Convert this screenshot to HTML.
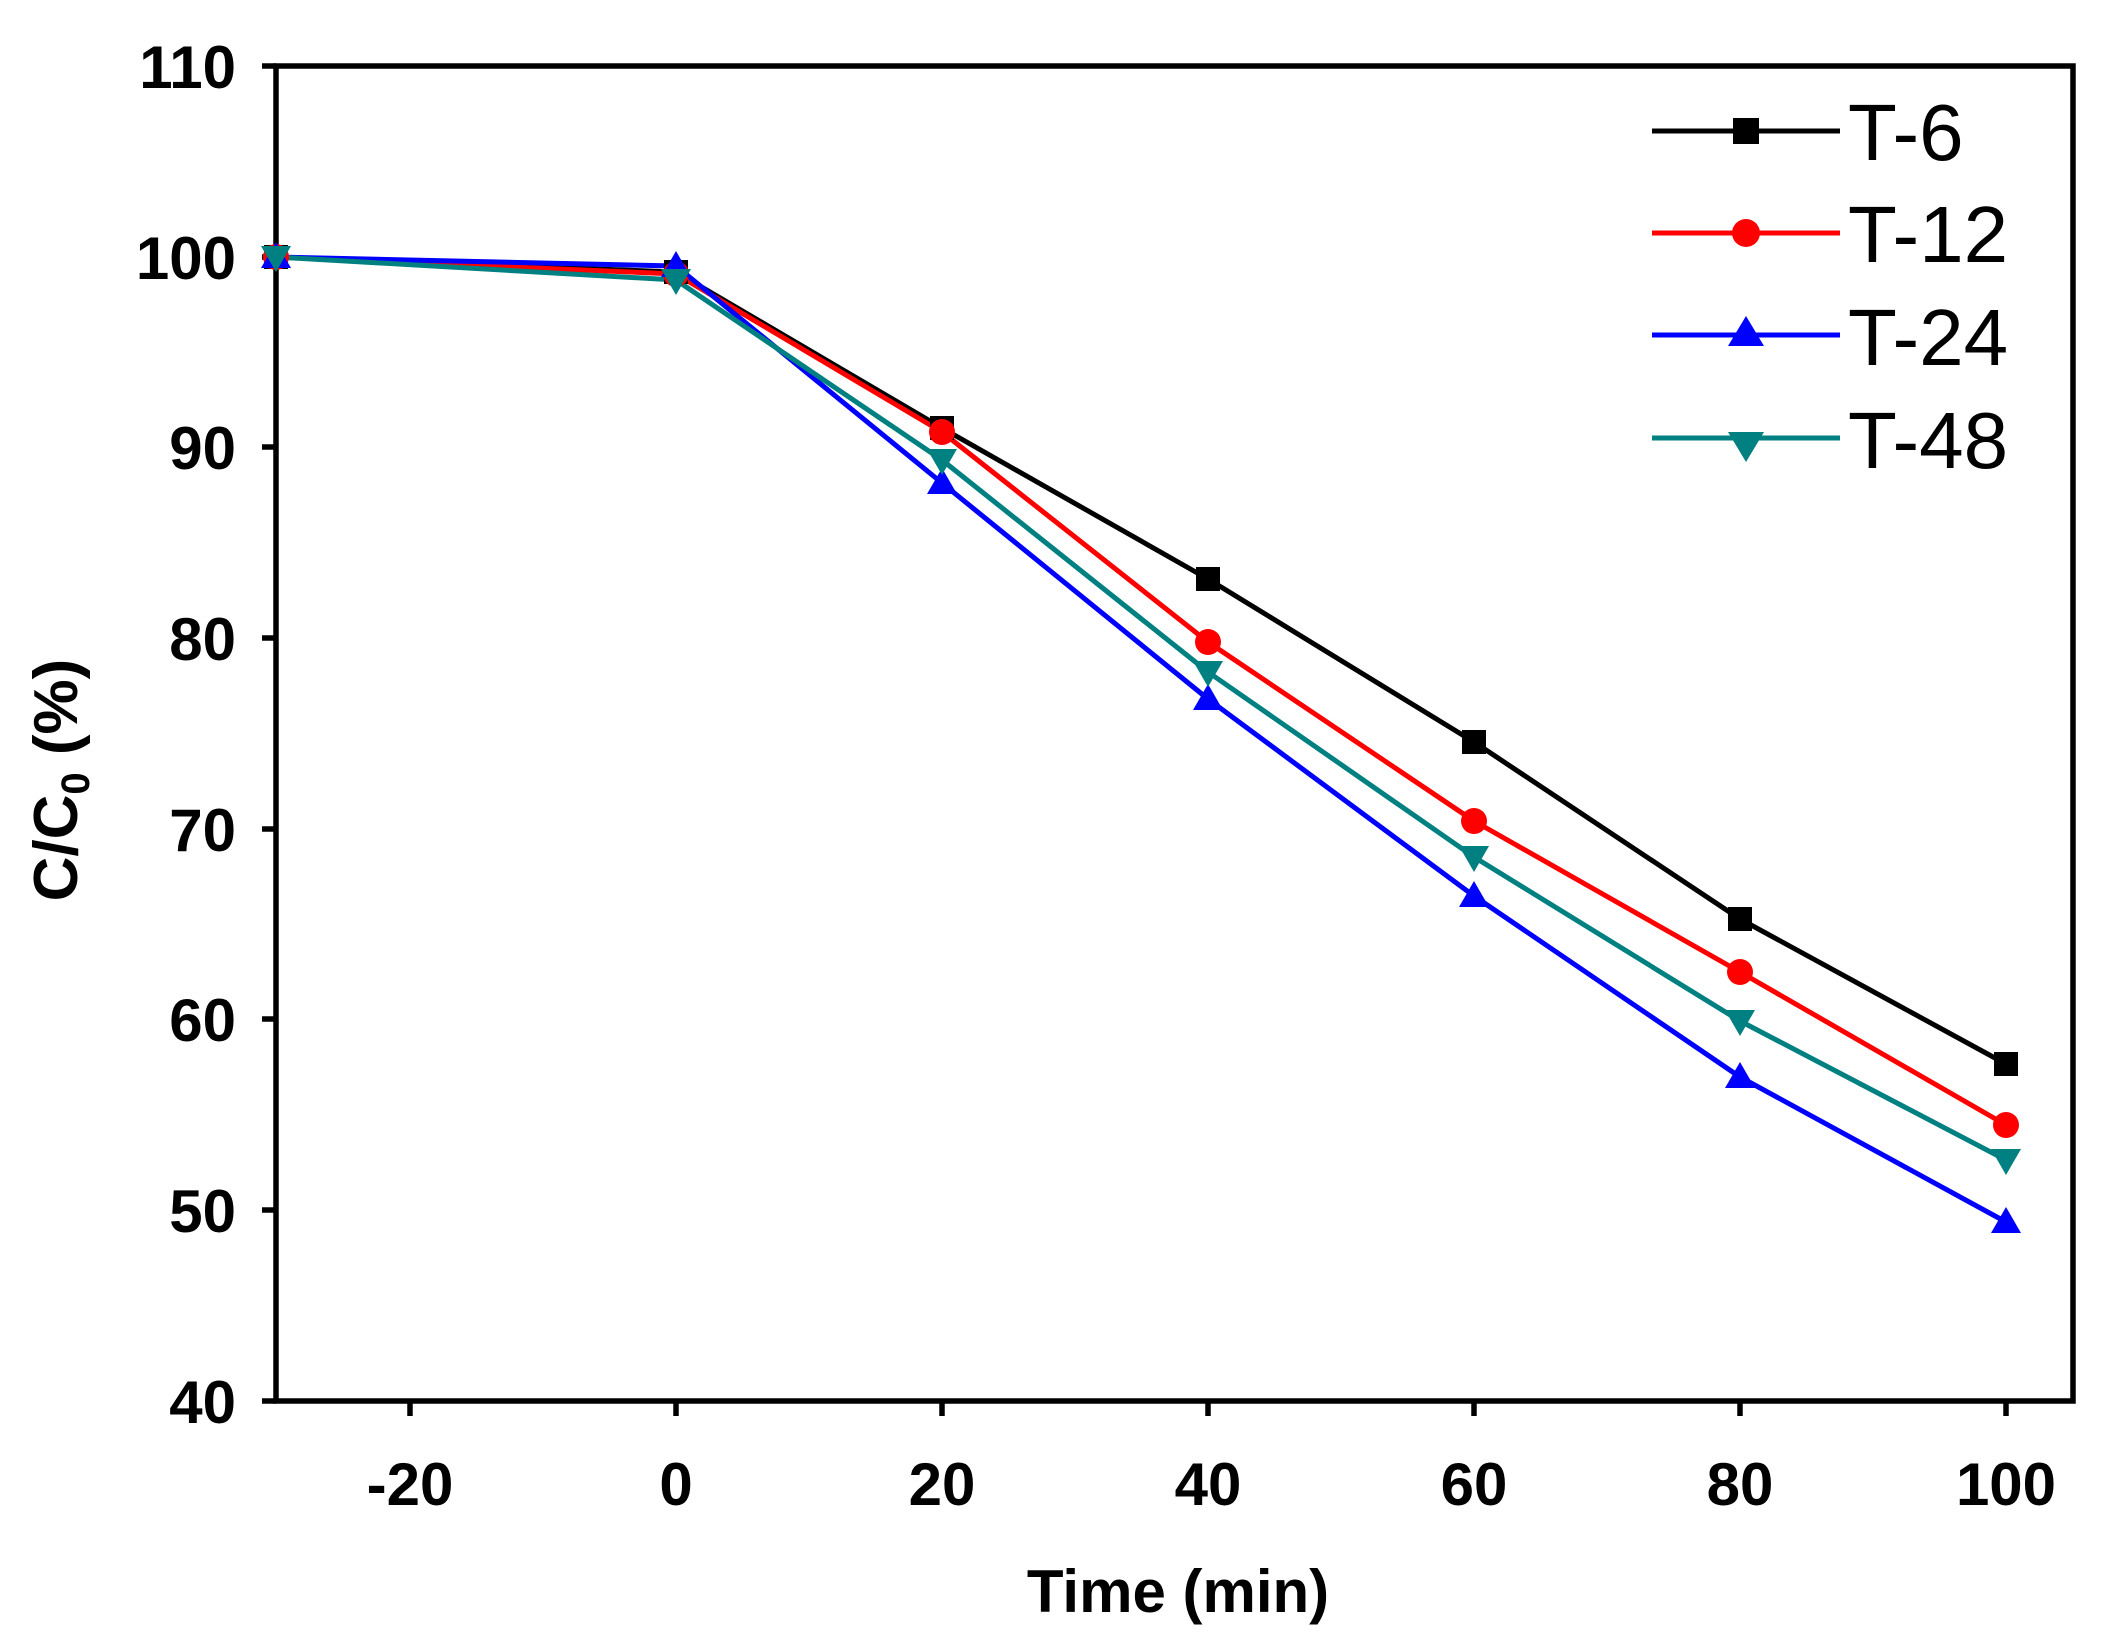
<!DOCTYPE html>
<html><head><meta charset="utf-8"><style>
html,body{margin:0;padding:0;background:#fff;}
svg{display:block;}
text{font-family:"Liberation Sans",Arial,sans-serif;}
</style></head><body>
<svg width="2111" height="1650" viewBox="0 0 2111 1650" xmlns="http://www.w3.org/2000/svg">
<g stroke="#000" stroke-width="5.5" fill="none">
<rect x="276" y="66" width="1797" height="1335"/>
<path d="M262 66H276M262 257H276M262 447H276M262 638H276M262 829H276M262 1019H276M262 1210H276M262 1401H276"/>
<path d="M410 1401V1416M676 1401V1416M942 1401V1416M1208 1401V1416M1474 1401V1416M1740 1401V1416M2006 1401V1416"/>
</g>
<g font-size="60" font-weight="bold" text-anchor="end" fill="#000">
<text x="236" y="88">110</text><text x="236" y="279">100</text><text x="236" y="469">90</text>
<text x="236" y="660">80</text><text x="236" y="851">70</text><text x="236" y="1041">60</text>
<text x="236" y="1232">50</text><text x="236" y="1423">40</text>
</g>
<g font-size="60" font-weight="bold" text-anchor="middle" fill="#000">
<text x="410" y="1505">-20</text><text x="676" y="1505">0</text><text x="942" y="1505">20</text>
<text x="1208" y="1505">40</text><text x="1474" y="1505">60</text><text x="1740" y="1505">80</text><text x="2006" y="1505">100</text>
</g>
<text x="1178" y="1612" font-size="60" font-weight="bold" text-anchor="middle">Time (min)</text>
<text transform="translate(77,780) rotate(-90)" font-size="62" font-weight="bold" text-anchor="middle">C/C<tspan font-size="40" dy="12">0</tspan><tspan dy="-12"> (%)</tspan></text>

<g fill="none" stroke-width="5" stroke-linejoin="round">
<polyline stroke="#000" points="276,257 676,272 942,428 1208,579 1474,742 1740,919 2006,1064"/>
<polyline stroke="#ff0000" points="276,257 676,274 942,432 1208,642 1474,821 1740,972 2006,1125"/>
<polyline stroke="#0000ff" points="276,257 676,266 942,483 1208,699 1474,896 1740,1077 2006,1222"/>
<polyline stroke="#008080" points="276,257 676,280 942,460 1208,672 1474,857 1740,1021 2006,1160"/>
</g>
<g fill="#000">
<rect x="264" y="245" width="24" height="24"/><rect x="664" y="260" width="24" height="24"/><rect x="930" y="416" width="24" height="24"/><rect x="1196" y="567" width="24" height="24"/><rect x="1462" y="730" width="24" height="24"/><rect x="1728" y="907" width="24" height="24"/><rect x="1994" y="1052" width="24" height="24"/>
</g>
<g fill="#ff0000">
<circle cx="276" cy="257" r="13"/><circle cx="676" cy="274" r="13"/><circle cx="942" cy="432" r="13"/><circle cx="1208" cy="642" r="13"/><circle cx="1474" cy="821" r="13"/><circle cx="1740" cy="972" r="13"/><circle cx="2006" cy="1125" r="13"/>
</g>
<g fill="#0000ff">
<path d="M276,242l15,26h-30z M676,251l15,26h-30z M942,468l15,26h-30z M1208,684l15,26h-30z M1474,881l15,26h-30z M1740,1062l15,26h-30z M2006,1207l15,26h-30z"/>
</g>
<g fill="#008080">
<path d="M276,272l15,-26h-30z M676,295l15,-26h-30z M942,475l15,-26h-30z M1208,687l15,-26h-30z M1474,872l15,-26h-30z M1740,1036l15,-26h-30z M2006,1175l15,-26h-30z"/>
</g>

<g stroke-width="5">
<line x1="1652" y1="131" x2="1840" y2="131" stroke="#000"/>
<line x1="1652" y1="233" x2="1840" y2="233" stroke="#ff0000"/>
<line x1="1652" y1="335" x2="1840" y2="335" stroke="#0000ff"/>
<line x1="1652" y1="438" x2="1840" y2="438" stroke="#008080"/>
</g>
<rect x="1733" y="118" width="26" height="26" fill="#000"/>
<circle cx="1746" cy="233" r="14" fill="#ff0000"/>
<path d="M1746,316l18,30h-36z" fill="#0000ff"/>
<path d="M1746,462l18,-30h-36z" fill="#008080"/>
<g font-size="80" fill="#000">
<text x="1848" y="160">T-6</text>
<text x="1848" y="262">T-12</text>
<text x="1848" y="365">T-24</text>
<text x="1848" y="468">T-48</text>
</g>
</svg>
</body></html>
